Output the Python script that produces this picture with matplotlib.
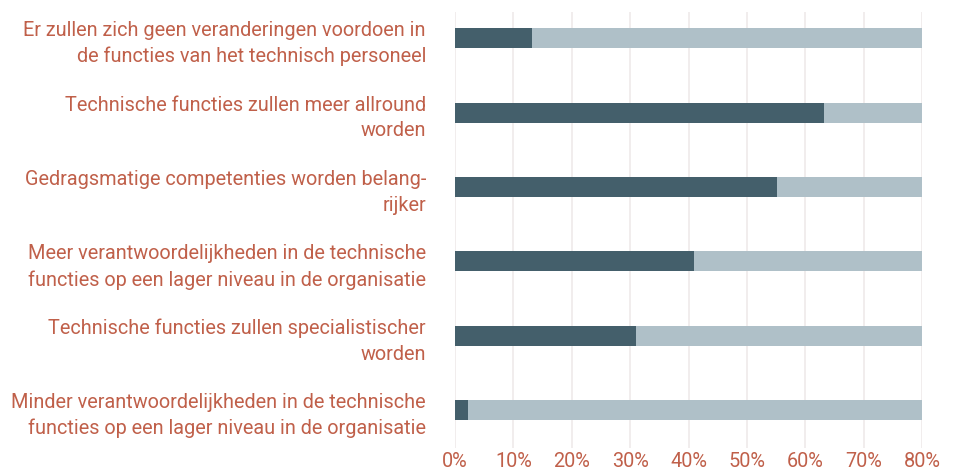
import matplotlib.pyplot as plt
import numpy as np

labels = [
    "Er zullen zich geen veranderingen voordoen in\nde functies van het technisch personeel",
    "Technische functies zullen meer allround\nworden",
    "Gedragsmatige competenties worden belang-\nrijker",
    "Meer verantwoordelijkheden in de technische\nfuncties op een lager niveau in de organisatie",
    "Technische functies zullen specialistischer\nworden",
    "Minder verantwoordelijkheden in de technische\nfuncties op een lager niveau in de organisatie",
]
share_yes = [13.2, 63.2, 55.1, 40.9, 31.0, 2.2]
share_rest = [100 - v for v in share_yes]
ticks = [0, 10, 20, 30, 40, 50, 60, 70, 80]

dark = "#445f6b"
light = "#afc0c8"
text_color = "#c0604a"
grid_color = "#efeaea"

plt.rcParams["font.family"] = ["Roboto", "DejaVu Sans"]

fig = plt.figure(figsize=(9.59, 4.69), dpi=100)
ax = fig.add_axes([0.4745, 0.045, 0.4869, 0.929])

y = np.arange(len(labels))
ax.barh(y, share_yes, height=0.27, color=dark, zorder=3)
ax.barh(y, share_rest, left=share_yes, height=0.27, color=light, zorder=3)

ax.set_xlim(0, 80)
ax.set_ylim(len(labels) - 1 + 0.51, -0.35)
ax.set_xticks(ticks)
ax.set_xticklabels([f"{t}%" for t in ticks])
ax.set_yticks(y)
ax.set_yticklabels(labels, linespacing=1.45)

ax.grid(axis="x", color=grid_color, linewidth=1.2, zorder=0)
for side in ax.spines.values():
    side.set_visible(False)
ax.tick_params(axis="y", length=0, pad=21, labelsize=14.3, labelcolor=text_color)
ax.tick_params(axis="x", length=0, pad=3, labelsize=14.3, labelcolor=text_color)
for lbl in ax.get_yticklabels():
    lbl.set_horizontalalignment("right")

fig.savefig("out.png", dpi=100)
